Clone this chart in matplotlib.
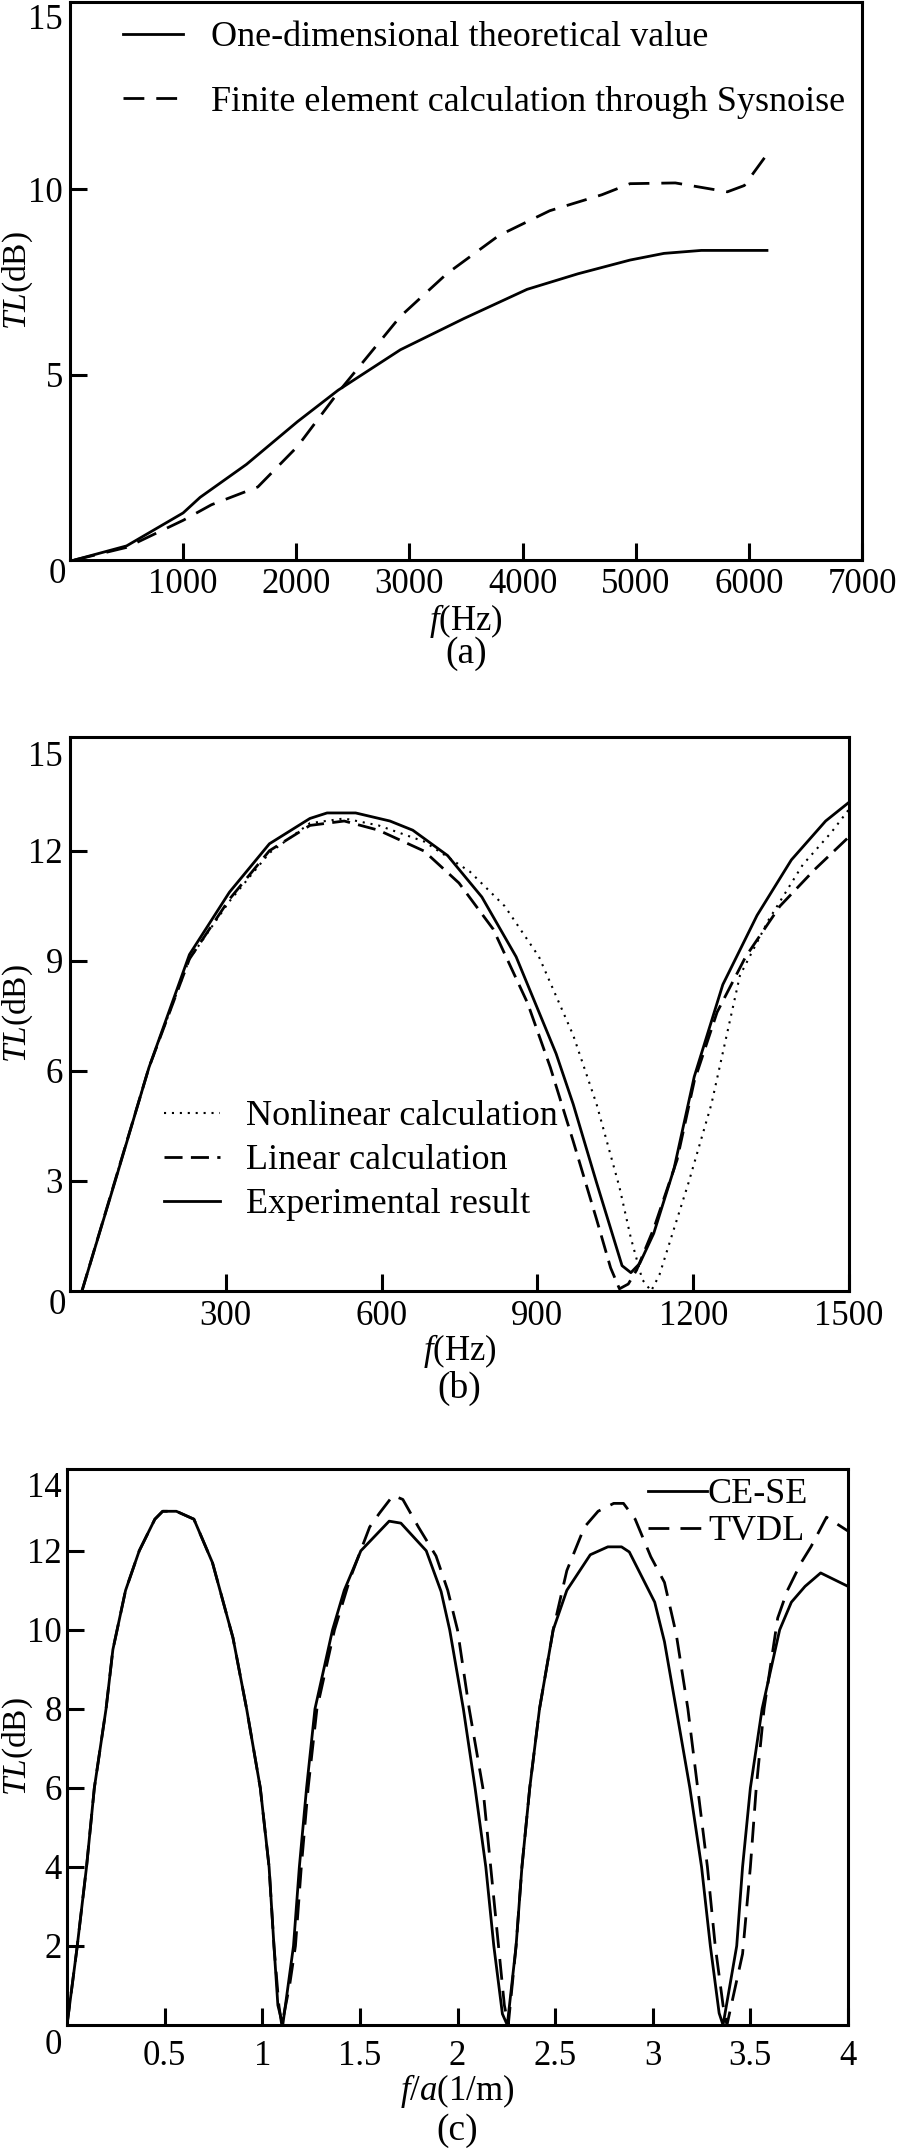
import matplotlib
matplotlib.use('Agg')
import matplotlib.pyplot as plt

plt.rcParams['font.family'] = ['Liberation Serif', 'DejaVu Serif']
plt.rcParams['mathtext.fontset'] = 'custom'
plt.rcParams['mathtext.rm'] = 'Liberation Serif'
plt.rcParams['mathtext.it'] = 'Liberation Serif:italic'

# ---- (a) one-dimensional theory vs Sysnoise FEM ----
a_freq_theory = [40, 500, 1000, 1150, 1560, 2010, 2370, 2920, 3480, 4040, 4490, 4950, 5250, 5580, 6160]
a_tl_theory = [0, 0.38, 1.27, 1.69, 2.58, 3.73, 4.58, 5.67, 6.51, 7.30, 7.72, 8.09, 8.27, 8.35, 8.35]
a_freq_fem = [40, 500, 1000, 1250, 1660, 2010, 2370, 2920, 3330, 3790, 4240, 4700, 4950, 5350, 5810, 5960, 6160]
a_tl_fem = [0, 0.34, 1.07, 1.49, 1.97, 3.06, 4.52, 6.57, 7.72, 8.75, 9.42, 9.85, 10.15, 10.17, 9.93, 10.1, 10.94]

# ---- (b) nonlinear / linear / experiment ----
b_freq_exp = [23, 86, 152, 230, 307, 384, 462, 495, 550, 616, 660, 727, 793, 859, 936, 969, 1014,
              1063, 1080, 1097, 1124, 1163, 1202, 1257, 1323, 1389, 1455, 1500]
b_tl_exp = [0, 2.95, 6.09, 9.17, 10.87, 12.19, 12.88, 13.03, 13.03, 12.81, 12.56, 11.87, 10.74, 9.11,
            6.47, 5.09, 2.95, 0.69, 0.50, 0.75, 1.57, 3.33, 5.84, 8.35, 10.24, 11.75, 12.81, 13.32]
b_freq_lin = [23, 152, 230, 307, 384, 462, 528, 594, 682, 749, 815, 881, 925, 969, 1014, 1041, 1058,
              1075, 1091, 1124, 1169, 1202, 1246, 1301, 1367, 1434, 1500]
b_tl_lin = [0, 6.09, 9.05, 10.68, 12.0, 12.69, 12.81, 12.56, 11.99, 11.12, 9.86, 7.85, 6.09, 4.08, 1.95,
            0.63, 0.06, 0.19, 0.57, 1.7, 3.58, 5.72, 7.6, 9.11, 10.49, 11.49, 12.38]
b_freq_nonlin = [23, 152, 230, 307, 384, 462, 528, 594, 682, 770, 837, 903, 969, 1014, 1058, 1080,
                 1102, 1119, 1135, 1191, 1235, 1290, 1345, 1411, 1466, 1500]
b_tl_nonlin = [0, 6.09, 9.05, 10.62, 11.94, 12.75, 12.88, 12.69, 12.25, 11.43, 10.49, 9.11, 6.97, 5.09,
               2.83, 1.44, 0.31, 0, 0.44, 2.95, 5.09, 8.6, 10.11, 11.62, 12.5, 13.13]

# ---- (c) CE-SE vs TVDL ----
c_fa_cese = [0, 0.05, 0.10, 0.14, 0.20, 0.235, 0.30, 0.37, 0.45, 0.49, 0.56, 0.65, 0.745, 0.85, 0.92,
             0.99, 1.035, 1.06, 1.08, 1.105, 1.16, 1.19, 1.227, 1.27, 1.36, 1.42, 1.505, 1.65, 1.71,
             1.84, 1.916, 1.96, 2.03, 2.09, 2.145, 2.186, 2.23, 2.255, 2.30, 2.33, 2.37, 2.42, 2.49,
             2.56, 2.68, 2.77, 2.84, 2.88, 3.01, 3.06, 3.12, 3.19, 3.25, 3.295, 3.34, 3.36, 3.43, 3.46,
             3.50, 3.56, 3.65, 3.71, 3.78, 3.86, 4.0]
c_tl_cese = [0, 1.9, 4.0, 6.0, 8.0, 9.5, 11.0, 12.0, 12.8, 13.0, 13.0, 12.8, 11.7, 9.8, 8.0,
             6.0, 4.0, 2.0, 0.5, 0, 2.0, 4.0, 6.0, 8.0, 10.0, 11.0, 12.0, 12.75, 12.7,
             12.0, 10.97, 10.0, 8.0, 6.0, 4.0, 2.0, 0.28, 0, 2.0, 4.0, 6.0, 8.0, 10.0,
             11.0, 11.9, 12.1, 12.1, 11.97, 10.7, 9.7, 8.0, 6.0, 4.0, 2.0, 0.3, 0, 2.0, 4.0,
             6.0, 8.0, 10.0, 10.7, 11.1, 11.44, 11.1]
c_fa_tvdl = [0, 0.05, 0.10, 0.14, 0.20, 0.235, 0.30, 0.37, 0.45, 0.49, 0.56, 0.65, 0.745, 0.85, 0.92,
             0.99, 1.035, 1.06, 1.085, 1.10, 1.14, 1.17, 1.20, 1.235, 1.28, 1.37, 1.45, 1.55, 1.60,
             1.67, 1.72, 1.80, 1.89, 1.95, 2.0, 2.06, 2.13, 2.17, 2.21, 2.24, 2.26, 2.30, 2.33, 2.37,
             2.42, 2.49, 2.56, 2.65, 2.72, 2.80, 2.85, 2.91, 2.99, 3.06, 3.12, 3.18, 3.23, 3.28, 3.32,
             3.36, 3.38, 3.46, 3.50, 3.53, 3.57, 3.64, 3.69, 3.76, 3.81, 3.89, 4.0]
c_tl_tvdl = [0, 1.9, 4.0, 6.0, 8.0, 9.5, 11.0, 12.0, 12.8, 13.0, 13.0, 12.8, 11.7, 9.8, 8.0,
             6.0, 4.0, 2.0, 0.5, 0, 1.0, 2.0, 4.0, 6.0, 8.0, 10.0, 11.3, 12.6, 12.95,
             13.4, 13.3, 12.6, 11.87, 11.0, 10.0, 8.0, 6.0, 4.0, 2.0, 0.5, 0, 2.0, 4.0, 6.0,
             8.0, 10.0, 11.5, 12.6, 13.0, 13.2, 13.2, 12.8, 11.85, 11.2, 9.9, 8.0, 6.0, 4.0, 2.0,
             0.5, 0, 1.8, 4.0, 6.0, 8.0, 10.3, 11.0, 11.7, 12.1, 12.85, 12.5]

W, H = 898, 2153
LW = 2.0
FS = 25        # tick and axis labels
LEG_FS = 26    # legend text

fig = plt.figure(figsize=(W / 100, H / 100), dpi=100)


def add_axes(left, top, right, bottom):
    ax = fig.add_axes([left / W, 1 - bottom / H, (right - left) / W, (bottom - top) / H])
    ax.px_w = right - left
    ax.px_h = bottom - top
    ax.px_left = left
    return ax


def style(ax, xticks, xticklabels, yticks, yticklabels, xlabel, letter,
          xpad, ypad, zero_off, xlab_off, letter_off):
    for s in ax.spines.values():
        s.set_linewidth(2.2)
    ax.tick_params(direction='in', length=12, width=2.2, labelsize=FS,
                   top=False, right=False)
    ax.tick_params(axis='x', pad=xpad)
    ax.tick_params(axis='y', pad=ypad)
    ax.set_xticks(xticks)
    ax.set_xticklabels(xticklabels)
    ax.set_yticks(yticks)
    ax.set_yticklabels(yticklabels)
    # the top y label sits under the frame, no tick mark there
    top_tick = ax.yaxis.get_major_ticks()[-1]
    top_tick.label1.set_verticalalignment('top')
    top_tick.tick1line.set_visible(False)
    # shared origin label
    ax.annotate('0', xy=(0, 0), xycoords='axes fraction',
                xytext=(zero_off[0] * 0.72, zero_off[1] * 0.72), textcoords='offset points',
                ha='center', va='center', fontsize=FS)
    ax.set_xlabel(xlabel, fontsize=FS)
    ax.xaxis.label.set_verticalalignment('center')
    ax.xaxis.set_label_coords(0.5, -xlab_off / ax.px_h)
    ax.set_ylabel(r'$TL$(dB)', fontsize=24)
    ax.yaxis.label.set_verticalalignment('center')
    ax.yaxis.set_label_coords(-(ax.px_left - 18) / ax.px_w, 0.5)
    ax.text(0.5, -letter_off / ax.px_h, letter, transform=ax.transAxes,
            ha='center', va='center', fontsize=27)


# (a)
ax1 = add_axes(70, 2, 862, 560)
ax1.plot(a_freq_theory, a_tl_theory, color='black', lw=LW, ls='-',
         label='One-dimensional theoretical value')
ax1.plot(a_freq_fem, a_tl_fem, color='black', lw=LW, ls=(0, (7.5, 4.3)),
         label='Finite element calculation through Sysnoise')
ax1.set_xlim(0, 7000)
ax1.set_ylim(0, 15.05)
style(ax1, [1000, 2000, 3000, 4000, 5000, 6000, 7000],
      ['1000', '2000', '3000', '4000', '5000', '6000', '7000'],
      [5, 10, 15], ['5', '10', '15'], r'$f$(Hz)', '(a)',
      xpad=5.8, ypad=5, zero_off=(-13, -15), xlab_off=61, letter_off=94)
ax1.legend(loc='upper left', bbox_to_anchor=((123 - 70) / 792, 1 - 19 / 558),
           frameon=False, fontsize=LEG_FS, borderpad=0, borderaxespad=0,
           handlelength=1.66, handletextpad=0.78, labelspacing=0.87)

# (b)
ax2 = add_axes(70, 737, 849, 1291)
ax2.plot(b_freq_nonlin, b_tl_nonlin, color='black', lw=1.5, ls=(0, (1, 2.8)),
         label='Nonlinear calculation')
ax2.plot(b_freq_lin, b_tl_lin, color='black', lw=LW, ls=(0, (6.5, 3)),
         label='Linear calculation')
ax2.plot(b_freq_exp, b_tl_exp, color='black', lw=LW, ls='-',
         label='Experimental result')
ax2.set_xlim(0, 1500)
ax2.set_ylim(0, 15.1)
style(ax2, [300, 600, 900, 1200, 1500], ['300', '600', '900', '1200', '1500'],
      [3, 6, 9, 12, 15], ['3', '6', '9', '12', '15'], r'$f$(Hz)', '(b)',
      xpad=6.3, ypad=5, zero_off=(-13, -14), xlab_off=60, letter_off=97)
ax2.legend(loc='upper left', bbox_to_anchor=((164 - 70) / 779, (1291 - 1100) / 554),
           frameon=False, fontsize=LEG_FS, borderpad=0, borderaxespad=0,
           handlelength=1.55, handletextpad=0.72, labelspacing=0.3)

# (c)
ax3 = add_axes(67, 1469, 848, 2025)
ax3.plot(c_fa_cese, c_tl_cese, color='black', lw=LW, ls='-', label='CE-SE')
ax3.plot(c_fa_tvdl, c_tl_tvdl, color='black', lw=LW, ls=(0, (7.5, 4)), label='TVDL')
ax3.set_xlim(0, 4)
ax3.set_ylim(0, 14.07)
style(ax3, [0.5, 1, 1.5, 2, 2.5, 3, 3.5, 4], ['0.5', '1', '1.5', '2', '2.5', '3', '3.5', '4'],
      [2, 4, 6, 8, 10, 12, 14], ['2', '4', '6', '8', '10', '12', '14'], r'$f$/$a$(1/m)', '(c)',
      xpad=10.5, ypad=3.6, zero_off=(-14, -21), xlab_off=66, letter_off=106)
ax3.legend(loc='upper left', bbox_to_anchor=((648 - 67) / 781, (2025 - 1478) / 556),
           frameon=False, fontsize=LEG_FS, borderpad=0, borderaxespad=0,
           handlelength=1.63, handletextpad=0.03, labelspacing=0.1)

fig.savefig('out.png', dpi=100)
